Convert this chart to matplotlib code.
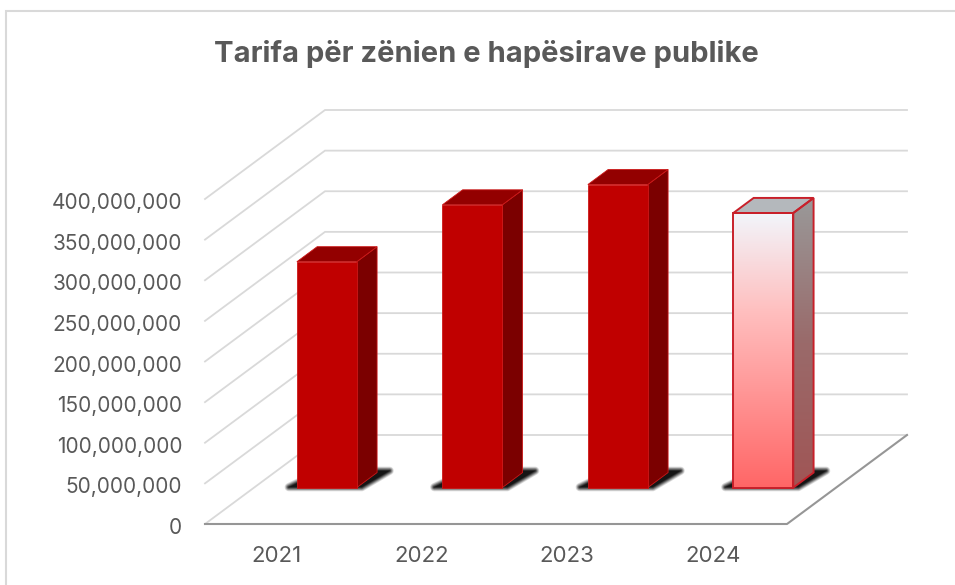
import numpy as np
import matplotlib
matplotlib.use('Agg')
import matplotlib.pyplot as plt
from matplotlib.colors import LinearSegmentedColormap
from matplotlib.patches import Polygon, Rectangle
from matplotlib.transforms import ScaledTranslation

plt.rcParams['font.family'] = ['Inter', 'DejaVu Sans']

TITLE = 'Tarifa për zënien e hapësirave publike'
YEARS = ['2021', '2022', '2023', '2024']
VALUES = [278e6, 348e6, 373e6, 338e6]
Y_TICKS = [0, 50e6, 100e6, 150e6, 200e6, 250e6, 300e6, 350e6, 400e6]

W, H = 955, 585
PLOT_L, PLOT_R, PLOT_B, PLOT_T = 205, 907, 524, 110
CAT_W = 145.5
PX_PER_VAL = 325 / 400e6
# depth of the fake 3d box, in pixels
DEPTH_X, DEPTH_Y = 120, 89
BAR_HALF = 0.206
BAR_D0, BAR_D1 = 0.409, 0.578

GRID = '#d9d9d9'
TEXT = '#595959'


def project(cat, val, depth):
    # depth 0 = front plane, depth 1 = back wall
    x = cat + depth * DEPTH_X / CAT_W
    y = val + depth * DEPTH_Y / PX_PER_VAL
    return x, y


def face(points, **kw):
    poly = Polygon(points, closed=True, **kw)
    ax.add_patch(poly)
    return poly


def gradient(poly, stops, x0, x1, y0, y1, z):
    cmap = LinearSegmentedColormap.from_list('g', stops)
    im = ax.imshow(np.linspace(1, 0, 256).reshape(-1, 1), cmap=cmap, aspect='auto',
                   extent=(x0, x1, y0, y1), origin='upper', zorder=z, interpolation='bilinear')
    im.set_clip_path(poly)


fig = plt.figure(figsize=(W / 100, H / 100), dpi=100)
ax = fig.add_axes([PLOT_L / W, 1 - PLOT_B / H, (PLOT_R - PLOT_L) / W, (PLOT_B - PLOT_T) / H])
ax.set_facecolor('none')
for s in ax.spines.values():
    s.set_visible(False)

x_min, x_max = -0.5, -0.5 + (PLOT_R - PLOT_L) / CAT_W
y_max = (PLOT_B - PLOT_T) / PX_PER_VAL

# frame of the picture
fig.add_artist(Rectangle((5.5 / W, -0.1), 1, 1.1 - 11.5 / H, transform=fig.transFigure,
                         fill=False, ec=GRID, lw=1.5))

# walls
for v in Y_TICKS:
    pts = [project(-0.5, v, 0), project(-0.5, v, 1), project(3.5, v, 1)]
    ax.plot(*zip(*pts), color=GRID, lw=1.3, zorder=1, clip_on=False, solid_joinstyle='miter')

# floor edges
floor = [project(-0.5, 0, 0), project(3.5, 0, 0), project(3.5, 0, 1)]
ax.plot(*zip(*floor), color='#969696', lw=1.5, zorder=2, clip_on=False)

for i, val in enumerate(VALUES):
    l, r = i - BAR_HALF, i + BAR_HALF

    # blurred shadow on the floor
    sh = [project(l - 0.06, 0, BAR_D0 + 0.005), project(r + 0.03, 0, BAR_D0 + 0.005),
          project(r + 0.07, 0, BAR_D1 + 0.02), project(l + 0.02, 0, BAR_D1 + 0.02)]
    for lw, a in zip([6, 5, 4, 3, 2, 1], [0.12, 0.15, 0.2, 0.25, 0.3, 0.4]):
        face(sh, fc='none', ec='black', lw=lw, alpha=a, zorder=3, joinstyle='round')
    face(sh, fc='#151515', ec='none', zorder=3)

    front = [project(l, 0, BAR_D0), project(r, 0, BAR_D0), project(r, val, BAR_D0), project(l, val, BAR_D0)]
    side = [project(r, 0, BAR_D0), project(r, 0, BAR_D1), project(r, val, BAR_D1), project(r, val, BAR_D0)]
    top = [project(l, val, BAR_D0), project(r, val, BAR_D0), project(r, val, BAR_D1), project(l, val, BAR_D1)]

    if i < 3:
        face(side, fc='#7b0000', ec='#cc1818', lw=0.6, zorder=4)
        face(top, fc='#930000', ec='#cc1818', lw=0.6, zorder=4)
        face(front, fc='#c00000', ec='#cc1818', lw=0.6, zorder=5)
    else:
        edge = '#c8202a'
        ys = [p[1] for p in front + side]
        xs = [p[0] for p in front + side]
        p_side = face(side, fc='none', ec='none', zorder=4)
        gradient(p_side, ['#a05555', '#9a6a6a', '#999999'], min(xs), max(xs), min(ys), max(ys), 4)
        p_front = face(front, fc='none', ec='none', zorder=5)
        gradient(p_front, [(0, '#ff6666'), (0.65, '#ffc0c0'), (1, '#f2f5fb')], min(xs), max(xs),
                 BAR_D0 * DEPTH_Y / PX_PER_VAL, val + BAR_D0 * DEPTH_Y / PX_PER_VAL, 5)
        face(top, fc='#b4b8bc', ec=edge, lw=1.4, zorder=6)
        face(side, fc='none', ec=edge, lw=1.4, zorder=6)
        face(front, fc='none', ec=edge, lw=1.4, zorder=6)

ax.set_xlim(x_min, x_max)
ax.set_ylim(0, y_max)
ax.set_xticks(range(len(YEARS)))
ax.set_xticklabels(YEARS)
ax.set_yticks(Y_TICKS)
ax.set_yticklabels([f'{int(v):,}' for v in Y_TICKS])
ax.tick_params(axis='y', length=0, pad=16.5, labelsize=15, labelcolor=TEXT)
ax.tick_params(axis='x', length=0, pad=16, labelsize=16, labelcolor=TEXT)

shift = ScaledTranslation(0, -2 / 100, fig.dpi_scale_trans)
for lab in ax.get_yticklabels():
    lab.set_transform(lab.get_transform() + shift)
shift_x = ScaledTranslation(-1.5 / 100, 0, fig.dpi_scale_trans)
for lab in ax.get_xticklabels():
    lab.set_transform(lab.get_transform() + shift_x)

fig.text((215 + 758) / 2 / W, 1 - 54 / H, TITLE, ha='center', va='center',
         fontsize=21, fontweight='bold', color=TEXT)

fig.savefig('out.png', dpi=100)
